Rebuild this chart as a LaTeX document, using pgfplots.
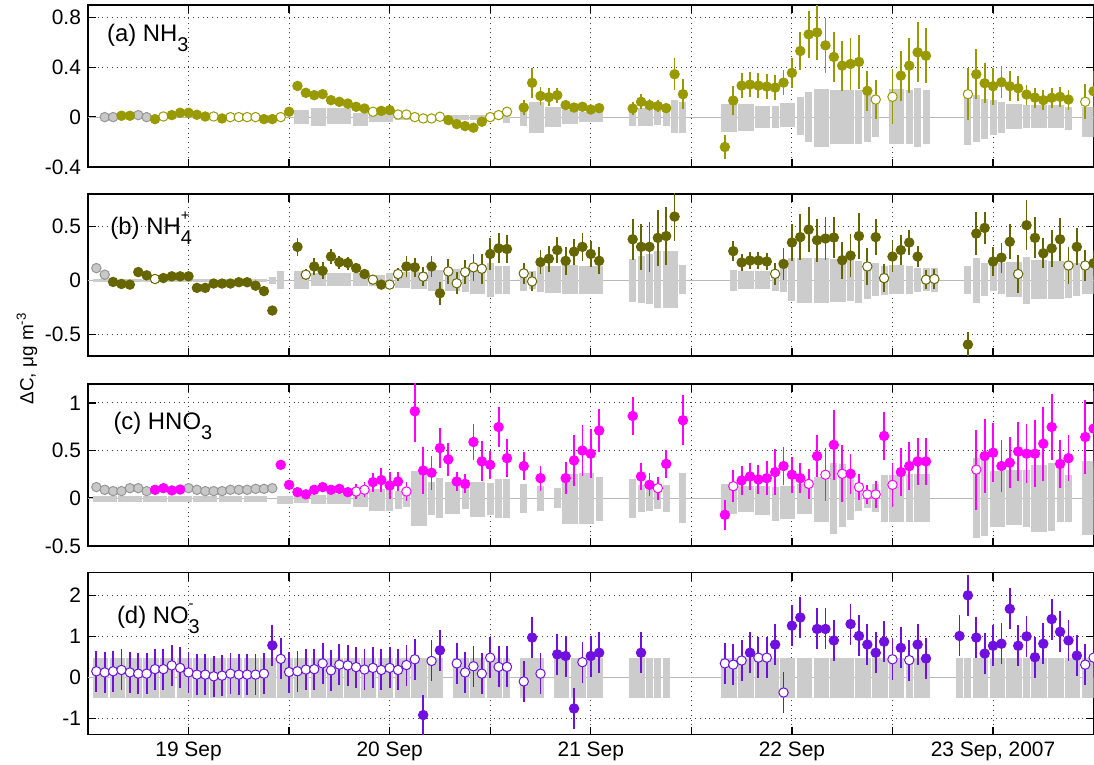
\documentclass[border=0pt]{standalone}
\usepackage{pgfplots}
\pgfplotsset{compat=1.18}
\usepackage{pgfplotstable}
\usepackage{fontspec}
\setmainfont{Liberation Sans}

\definecolor{barg}{RGB}{204,204,204}
\definecolor{colA}{RGB}{153,153,0}
\definecolor{colB}{RGB}{102,102,0}
\definecolor{colC}{RGB}{255,0,255}
\definecolor{colD}{RGB}{112,16,224}
\definecolor{grA}{RGB}{200,200,200}
\definecolor{grE}{RGB}{150,150,150}

\newcommand{\sbs}[1]{\raisebox{-0.42em}{\fontsize{10}{12}\selectfont #1}}
\newcommand{\sps}[1]{\raisebox{0.6em}{\fontsize{7.5}{9}\selectfont #1}}

\pgfplotsset{
 blk/.style={only marks, mark=*, mark size=0pt, mark options={draw=none, fill=none}, forget plot,
   error bars/y dir=both, error bars/y explicit, error bars/error mark=none,
   error bars/error bar style={line width=#1, color=barg, line cap=butt}},
 errs/.style={only marks, mark=*, mark size=0pt, mark options={draw=none, fill=none}, forget plot,
   error bars/y dir=both, error bars/y explicit, error bars/error mark=none,
   error bars/error bar style={line width=0.9bp, color=#1}},
 mk/.style 2 args={only marks, mark=*, mark size=2.35bp, forget plot,
   mark options={draw=#1, fill=#2, line width=0.5bp}},
 panel/.style={width=503bp, height=81bp, scale only axis, xmin=0, xmax=120,
   anchor=north west,
   xtick={12,24,...,108}, xticklabel=\empty,
   grid=major, grid style={dotted, line width=0.5bp, black!75},
   axis line style={line width=0.7bp}, major tick length=4bp,
   tick style={line width=0.7bp, black},
   tick label style={font=\fontsize{10.5}{12}\selectfont}},
}
\tikzset{plab/.style={anchor=base west, font=\fontsize{12}{14}\selectfont, inner sep=0pt}}

% ---------------- panel (a) NH3 ----------------
\pgfplotstableread{
h v e t
2 0 0.015 2
3 0 0.015 2
4 0.011 0.015 0
5 0.011 0.015 0
6 0.016 0.015 2
7 0 0.015 2
8 -0.016 0.015 0
9 0.005 0.015 1
10 0.016 0.015 0
11 0.035 0.015 0
12 0.035 0.015 0
13 0.019 0.015 0
14 0.005 0.015 0
15 0.005 0.015 1
16 -0.011 0.015 0
17 0 0.015 1
18 0 0.015 1
19 0 0.015 1
20 0 0.015 1
21 -0.016 0.015 0
22 -0.016 0.015 0
23 0 0.015 1
24 0.043 0.03 0
25 0.25 0.04 0
26 0.195 0.04 0
27 0.176 0.04 0
28 0.184 0.04 0
29 0.136 0.04 0
30 0.123 0.04 0
31 0.109 0.04 0
32 0.083 0.04 0
33 0.069 0.04 0
34 0.043 0.03 1
35 0.05 0.03 0
36 0.056 0.03 0
37 0.021 0.02 1
38 0.021 0.02 1
39 0 0.02 1
40 -0.011 0.02 1
41 -0.011 0.02 1
42 0.003 0.02 1
43 -0.024 0.02 0
44 -0.056 0.02 0
45 -0.072 0.02 0
46 -0.085 0.02 0
47 -0.037 0.02 0
48 0 0.02 1
49 0.016 0.02 1
50 0.043 0.02 1
52 0.077 0.06 0
53 0.275 0.12 0
54 0.17 0.07 0
55 0.16 0.07 0
56 0.176 0.06 0
57 0.096 0.04 0
58 0.077 0.03 0
59 0.083 0.03 0
60 0.061 0.03 0
61 0.072 0.03 0
65 0.069 0.05 0
66 0.123 0.06 0
67 0.096 0.05 0
68 0.088 0.05 0
69 0.072 0.04 0
70 0.344 0.13 0
71 0.184 0.12 0
76 -0.24 0.1 0
77 0.133 0.12 0
78 0.253 0.1 0
79 0.261 0.1 0
80 0.253 0.1 0
81 0.245 0.1 0
82 0.237 0.1 0
83 0.277 0.1 0
84 0.355 0.12 0
85 0.531 0.15 0
86 0.664 0.19 0
87 0.68 0.22 0
88 0.576 0.22 0
89 0.483 0.2 0
90 0.413 0.2 0
91 0.427 0.21 0
92 0.443 0.22 0
93 0.211 0.16 0
94 0.141 0.16 1
96 0.163 0.22 1
97 0.333 0.2 0
98 0.413 0.22 0
99 0.52 0.24 0
100 0.493 0.22 0
105 0.184 0.21 1
106 0.344 0.2 0
107 0.272 0.16 0
108 0.248 0.15 0
109 0.28 0.13 0
110 0.248 0.12 0
111 0.232 0.1 0
112 0.181 0.08 0
113 0.157 0.08 0
114 0.136 0.08 0
115 0.155 0.08 0
116 0.163 0.08 0
117 0.141 0.08 0
119 0.123 0.14 1
120 0.208 0.16 0
}\ptsA
\pgfplotstableread{
c hi lo w
25.5 0.056 0.056 2
27.5 0.07 0.07 2
30 0.07 0.056 3
32.5 0.03 0.07 2
35 0.03 0.037 3
38 0.016 0.02 3
41 0.016 0.02 3
44 0.016 0.02 3
47 0.016 0.02 3
50 0.016 0.05 1
52 0.083 0.072 1
53.5 0.12 0.125 2
55.5 0.083 0.077 2
57.5 0.056 0.056 2
60 0.043 0.037 3
65 0.07 0.072 1
66.5 0.07 0.072 2
68 0.07 0.064 1
69 0.083 0.072 1
70 0.136 0.13 1
71 0.123 0.125 1
76.5 0.104 0.123 2
78.5 0.104 0.109 2
80.5 0.091 0.091 2
82 0.088 0.091 1
83.5 0.115 0.083 2
85 0.163 0.144 1
86 0.203 0.197 1
87.5 0.229 0.237 2
90 0.216 0.216 3
92 0.216 0.219 1
93 0.203 0.197 1
94 0.136 0.157 1
96.5 0.229 0.216 2
98 0.221 0.216 1
99 0.237 0.237 1
100 0.216 0.216 1
105 0.184 0.224 1
106 0.176 0.203 1
107 0.149 0.179 1
108 0.136 0.144 1
109 0.123 0.125 1
110.5 0.109 0.099 2
112 0.096 0.091 1
113.5 0.096 0.091 2
115.5 0.096 0.091 2
117 0.083 0.104 1
119.5 0.083 0.157 2
}\barsA

% ---------------- panel (b) NH4+ ----------------
\pgfplotstableread{
h v e t
1 0.113 0.015 2
2 0.052 0.015 2
3 -0.015 0.015 0
4 -0.034 0.015 0
5 -0.04 0.015 0
6 0.076 0.015 0
7 0.046 0.015 0
8 0.012 0.015 1
9 0.021 0.015 0
10 0.037 0.015 0
11 0.037 0.015 0
12 0.037 0.015 0
13 -0.07 0.015 0
14 -0.07 0.015 0
15 -0.03 0.015 0
16 -0.03 0.015 0
17 -0.03 0.015 0
18 -0.018 0.015 0
19 -0.018 0.015 0
20 -0.05 0.015 0
21 -0.1 0.015 0
22 -0.28 0.015 0
25 0.31 0.085 0
26 0.052 0.05 1
27 0.128 0.08 0
28 0.088 0.08 0
29 0.22 0.07 0
30 0.168 0.06 0
31 0.16 0.06 0
32 0.113 0.05 0
33 0.058 0.05 0
34 0.006 0.04 1
35 -0.04 0.04 0
36 -0.04 0.04 1
37 0.058 0.06 1
38 0.128 0.1 0
39 0.12 0.09 0
40 0.034 0.09 1
41 0.128 0.1 0
42 -0.12 0.107 0
43 0.082 0.116 1
44 -0.027 0.1 1
45 0.076 0.11 1
46 0.12 0.125 1
47 0.107 0.137 1
48 0.244 0.15 0
49 0.296 0.14 0
50 0.29 0.13 0
52 0.064 0.1 1
53 -0.01 0.085 1
54 0.168 0.11 0
55 0.2 0.12 0
56 0.28 0.12 0
57 0.18 0.13 0
58 0.265 0.12 0
59 0.31 0.13 0
60 0.244 0.12 0
61 0.18 0.125 0
65 0.38 0.19 0
66 0.31 0.21 0
67 0.31 0.23 0
68 0.393 0.26 0
69 0.41 0.27 0
70 0.59 0.23 0
77 0.27 0.09 0
78 0.165 0.08 0
79 0.183 0.08 0
80 0.183 0.08 0
81 0.174 0.08 0
82 0.06 0.1 1
83 0.152 0.15 0
84 0.35 0.17 0
85 0.40 0.21 0
86 0.47 0.21 0
87 0.372 0.2 0
88 0.387 0.2 0
89 0.396 0.19 0
90 0.186 0.17 0
91 0.229 0.2 0
92 0.41 0.21 0
93 0.128 0.17 1
94 0.40 0.17 0
95 0.02 0.13 1
96 0.22 0.14 0
97 0.28 0.14 0
98 0.35 0.12 0
99 0.22 0.1 0
100 0.006 0.09 1
101 0.012 0.09 1
105 -0.595 0.12 0
106 0.433 0.2 0
107 0.485 0.15 0
108 0.174 0.13 0
109 0.21 0.14 0
110 0.357 0.16 0
111 0.058 0.18 1
112 0.51 0.23 0
113 0.393 0.19 0
114 0.25 0.14 0
115 0.296 0.17 0
116 0.38 0.2 0
117 0.137 0.17 1
118 0.31 0.17 0
119 0.137 0.14 1
120 0.158 0.12 0
}\ptsB
\pgfplotstableread{
c hi lo w
2 0.012 0.015 3
5 0.012 0.015 3
8 0.012 0.015 3
11 0.012 0.015 3
14 0.012 0.015 3
17 0.012 0.015 3
20 0.012 0.015 3
22 0.03 0.03 1
23 0.088 0.076 1
25.5 0.088 0.076 2
27.5 0.067 0.055 2
30 0.067 0.055 3
32.5 0.067 0.055 2
34.5 0.052 0.055 2
36 0.067 0.04 1
37.5 0.076 0.07 2
39.5 0.076 0.076 2
41.5 0.098 0.095 2
43.5 0.107 0.101 2
45 0.076 0.107 1
46.5 0.098 0.131 2
48 0.158 0.155 1
49 0.128 0.125 1
50 0.128 0.125 1
52 0.098 0.101 1
53 0.088 0.085 1
54 0.119 0.107 1
55.5 0.128 0.116 2
57.5 0.143 0.131 2
60 0.137 0.125 3
65 0.198 0.198 1
66 0.229 0.207 1
67 0.241 0.223 1
68 0.271 0.253 1
69.5 0.271 0.259 2
71 0.143 0.125 1
77 0.098 0.095 1
78.5 0.088 0.085 2
80.5 0.088 0.085 2
82 0.067 0.095 1
83 0.119 0.107 1
84 0.204 0.192 1
85.5 0.21 0.207 2
87.5 0.21 0.207 2
89.5 0.198 0.198 2
91 0.189 0.192 1
92 0.18 0.207 1
93 0.174 0.177 1
94 0.158 0.146 1
95 0.128 0.137 1
96.5 0.143 0.131 2
98 0.128 0.125 1
99 0.113 0.107 1
100 0.113 0.095 1
101 0.113 0.107 1
105 0.137 0.125 1
106 0.21 0.207 1
107 0.158 0.146 1
108 0.149 0.101 1
109 0.158 0.131 1
110.5 0.174 0.155 2
112 0.219 0.223 1
113.5 0.189 0.177 2
115.5 0.18 0.177 2
117 0.168 0.162 1
118 0.158 0.146 1
119.5 0.128 0.131 2
}\barsB

% ---------------- panel (c) HNO3 ----------------
\pgfplotstableread{
h v e t
1 0.116 0.015 2
2 0.088 0.015 2
3 0.074 0.015 2
4 0.074 0.015 2
5 0.105 0.015 2
6 0.105 0.015 2
7 0.074 0.015 2
8 0.088 0.02 0
9 0.105 0.02 0
10 0.081 0.02 0
11 0.091 0.02 0
12 0.105 0.015 2
13 0.088 0.015 2
14 0.074 0.015 2
15 0.074 0.015 2
16 0.074 0.015 2
17 0.088 0.015 2
18 0.088 0.015 2
19 0.088 0.015 2
20 0.098 0.015 2
21 0.098 0.015 2
22 0.105 0.015 2
23 0.35 0.03 0
24 0.14 0.03 0
25 0.063 0.03 0
26 0.04 0.03 0
27 0.088 0.03 0
28 0.116 0.03 0
29 0.088 0.03 0
30 0.098 0.03 0
31 0.063 0.03 0
32 0.07 0.08 1
33 0.088 0.08 1
34 0.168 0.1 0
35 0.19 0.13 0
36 0.133 0.14 0
37 0.175 0.1 0
38 0.07 0.1 1
39 0.912 0.32 0
40 0.29 0.25 0
41 0.267 0.18 0
42 0.526 0.21 0
43 0.407 0.17 0
44 0.175 0.1 0
45 0.15 0.1 0
46 0.59 0.19 0
47 0.386 0.21 0
48 0.35 0.15 0
49 0.747 0.21 0
50 0.42 0.2 0
52 0.337 0.15 0
54 0.21 0.13 0
57 0.21 0.17 0
58 0.396 0.27 0
59 0.5 0.27 0
60 0.467 0.26 0
61 0.71 0.23 0
65 0.863 0.2 0
66 0.228 0.14 0
67 0.14 0.12 0
68 0.105 0.12 1
69 0.36 0.15 0
71 0.818 0.26 0
76 -0.175 0.16 0
77 0.126 0.17 1
78 0.186 0.15 0
79 0.228 0.14 0
80 0.196 0.15 0
81 0.21 0.18 0
82 0.274 0.24 0
83 0.337 0.2 0
84 0.246 0.19 0
85 0.21 0.16 0
86 0.15 0.16 1
87 0.442 0.22 0
88 0.246 0.28 1
89 0.56 0.37 0
90 0.256 0.3 1
91 0.256 0.21 0
92 0.116 0.14 1
93 0.04 0.1 1
94 0.04 0.14 1
95 0.653 0.25 0
96 0.14 0.23 1
97 0.274 0.25 0
98 0.337 0.25 0
99 0.386 0.25 0
100 0.386 0.25 0
106 0.3 0.42 1
107 0.442 0.39 0
108 0.477 0.31 0
109 0.337 0.27 0
110 0.372 0.27 0
111 0.49 0.31 0
112 0.467 0.31 0
113 0.467 0.35 0
114 0.572 0.39 0
115 0.747 0.35 0
116 0.36 0.25 0
117 0.42 0.24 0
119 0.642 0.39 0
120 0.73 0.4 0
}\ptsC
\pgfplotstableread{
c hi lo w
2 0.021 0.035 3
5 0.021 0.035 3
8 0.021 0.035 3
11 0.021 0.035 3
14 0.021 0.035 3
17 0.021 0.035 3
20 0.021 0.035 3
23.5 0.02 0.06 2
25.5 0.028 0.053 2
27.5 0.035 0.06 2
30 0.046 0.06 3
32.5 0.08 0.095 2
34.5 0.1 0.13 2
36 0.1 0.13 1
37 0.08 0.11 1
38 0.046 0.095 1
39.5 0.29 0.29 2
41 0.175 0.18 1
42 0.21 0.21 1
43.5 0.168 0.165 2
45 0.15 0.11 1
46.5 0.175 0.2 2
48 0.16 0.18 1
49 0.2 0.21 1
50 0.2 0.21 1
52 0.15 0.155 1
54 0.133 0.13 1
56 0.105 0.105 1
57.5 0.256 0.27 2
59.5 0.267 0.27 2
61 0.22 0.235 1
65 0.2 0.21 1
66 0.14 0.147 1
67 0.15 0.13 1
68 0.116 0.112 1
69 0.14 0.147 1
71 0.267 0.26 1
76.5 0.15 0.165 2
78.5 0.133 0.147 2
80.5 0.133 0.18 2
82 0.116 0.235 1
83.5 0.133 0.218 2
85.5 0.15 0.165 2
87.5 0.22 0.25 2
89 0.37 0.375 1
90 0.36 0.305 1
91 0.274 0.225 1
92 0.1 0.13 1
93 0.08 0.105 1
94 0.15 0.147 1
95 0.24 0.25 1
96.5 0.24 0.25 2
98 0.256 0.25 1
99.5 0.256 0.25 2
106 0.42 0.42 1
107 0.414 0.393 1
108.5 0.29 0.305 2
110.5 0.3 0.28 2
112 0.3 0.305 1
113.5 0.344 0.358 2
115 0.37 0.34 1
116 0.326 0.25 1
117 0.24 0.245 1
119.5 0.386 0.386 2
}\barsC

% ---------------- panel (d) NO3- ----------------
\pgfplotstableread{
h v e t
1 0.148 0.5 1
2 0.12 0.5 1
3 0.148 0.5 1
4 0.18 0.5 1
5 0.12 0.5 1
6 0.09 0.5 1
7 0.09 0.5 1
8 0.2 0.5 1
9 0.2 0.5 1
10 0.29 0.5 1
11 0.23 0.5 1
12 0.12 0.5 1
13 0.066 0.5 1
14 0.066 0.5 1
15 0.025 0.5 1
16 0.041 0.5 1
17 0.09 0.5 1
18 0.066 0.5 1
19 0.066 0.5 1
20 0.066 0.5 1
21 0.09 0.5 1
22 0.78 0.5 0
23 0.45 0.5 1
24 0.13 0.5 1
25 0.148 0.5 1
26 0.19 0.5 1
27 0.2 0.5 1
28 0.34 0.5 1
29 0.17 0.5 1
30 0.31 0.5 1
31 0.29 0.5 1
32 0.25 0.5 1
33 0.19 0.5 1
34 0.23 0.5 1
35 0.18 0.5 1
36 0.23 0.5 1
37 0.18 0.5 1
38 0.3 0.5 1
39 0.44 0.5 1
40 -0.92 0.5 0
41 0.4 0.5 1
42 0.66 0.5 0
44 0.34 0.5 1
45 0.12 0.5 1
46 0.27 0.5 1
47 0.09 0.5 1
48 0.48 0.5 1
49 0.255 0.5 1
50 0.255 0.5 1
52 -0.1 0.5 1
53 0.97 0.5 0
54 0.09 0.5 1
56 0.56 0.5 0
57 0.52 0.5 0
58 -0.76 0.5 0
59 0.37 0.5 1
60 0.52 0.5 0
61 0.6 0.5 0
66 0.6 0.5 0
76 0.34 0.5 1
77 0.31 0.5 1
78 0.41 0.5 1
79 0.6 0.5 0
80 0.48 0.5 1
81 0.48 0.5 1
82 0.8 0.5 0
83 -0.37 0.5 1
84 1.26 0.5 0
85 1.46 0.5 0
87 1.18 0.5 0
88 1.18 0.5 0
89 0.9 0.5 0
91 1.3 0.5 0
92 1.01 0.5 0
93 0.8 0.5 0
94 0.6 0.5 0
95 0.87 0.5 0
96 0.44 0.5 1
97 0.72 0.5 0
98 0.42 0.5 1
99 0.8 0.5 0
100 0.46 0.5 0
104 1.01 0.5 0
105 2.0 0.5 0
106 0.97 0.5 0
107 0.58 0.5 0
108 0.77 0.5 0
109 0.82 0.5 0
110 1.67 0.5 0
111 0.77 0.5 0
112 1.0 0.5 0
113 0.49 0.5 0
114 0.82 0.5 0
115 1.42 0.5 0
116 1.11 0.5 0
117 0.9 0.5 0
118 0.53 0.5 0
119 0.31 0.5 1
120 0.48 0.5 1
}\ptsD
\pgfplotstableread{
c hi lo w
1.5 0.477 0.494 2
3.5 0.477 0.494 2
5.5 0.477 0.494 2
7.5 0.477 0.494 2
9.5 0.477 0.494 2
11.5 0.477 0.494 2
13.5 0.477 0.494 2
15.5 0.477 0.494 2
17.5 0.477 0.494 2
19.5 0.477 0.494 2
21.5 0.477 0.494 2
23.5 0.477 0.494 2
25.5 0.477 0.494 2
27.5 0.477 0.494 2
29.5 0.477 0.494 2
31.5 0.477 0.494 2
33.5 0.477 0.494 2
35.5 0.477 0.494 2
37.5 0.477 0.494 2
39.5 0.477 0.494 2
41.5 0.477 0.494 2
44.5 0.477 0.494 2
46.5 0.477 0.494 2
48.5 0.477 0.494 2
50 0.477 0.494 1
53 0.477 0.494 3
56.5 0.477 0.494 2
58.5 0.477 0.494 2
60.5 0.477 0.494 2
65.5 0.477 0.494 2
67 0.477 0.494 1
68 0.477 0.494 1
69 0.477 0.494 1
76.5 0.477 0.494 2
78.5 0.477 0.494 2
81 0.477 0.494 3
83.5 0.477 0.494 2
85.5 0.477 0.494 2
87.5 0.477 0.494 2
90 0.477 0.494 3
92.5 0.477 0.494 2
94.5 0.477 0.494 2
96.5 0.477 0.494 2
98 0.477 0.494 1
99.5 0.477 0.494 2
104 0.477 0.494 1
105 0.477 0.494 1
106.5 0.477 0.494 2
108.5 0.477 0.494 2
110.5 0.477 0.494 2
112 0.477 0.494 1
113.5 0.477 0.494 2
115.5 0.477 0.494 2
117.5 0.477 0.494 2
119.5 0.477 0.494 2
}\barsD

% draw the gray blocks of one panel
\newcommand{\drawbars}[1]{%
  \addplot[gray!55, line width=0.4bp, forget plot] coordinates {(0,0) (120,0)};
  \addplot[blk=3.5bp, restrict expr to domain={\thisrow{w}}{0.5:1.5}]
     table[x=c, y expr=0, y error plus=hi, y error minus=lo] {#1};
  \addplot[blk=7.7bp, restrict expr to domain={\thisrow{w}}{1.5:2.5}]
     table[x=c, y expr=0, y error plus=hi, y error minus=lo] {#1};
  \addplot[blk=11.9bp, restrict expr to domain={\thisrow{w}}{2.5:3.5}]
     table[x=c, y expr=0, y error plus=hi, y error minus=lo] {#1};
}
% draw the points of one panel: #1 table, #2 colour
\newcommand{\drawpts}[2]{%
  \addplot[errs=grE, restrict expr to domain={\thisrow{t}}{1.5:2.5}]
     table[x=h, y=v, y error=e] {#1};
  \addplot[errs=#2, restrict expr to domain={\thisrow{t}}{-0.5:1.5}]
     table[x=h, y=v, y error=e] {#1};
  \addplot[mk={grE}{grA}, restrict expr to domain={\thisrow{t}}{1.5:2.5}]
     table[x=h, y=v] {#1};
  \addplot[mk={#2}{white}, restrict expr to domain={\thisrow{t}}{0.5:1.5}]
     table[x=h, y=v] {#1};
  \addplot[mk={#2}{#2}, restrict expr to domain={\thisrow{t}}{-0.5:0.5}]
     table[x=h, y=v] {#1};
}

\begin{document}
\begin{tikzpicture}
\useasboundingbox (-44bp,2.5bp) rectangle (503.2bp,-380bp);

\begin{axis}[panel, at={(0,0)}, ymin=-0.4, ymax=0.9,
  ytick={-0.4,0,0.4,0.8}, yticklabels={-0.4,0,0.4,0.8}]
\drawbars{\barsA}
\drawpts{\ptsA}{colA}
\node[plab] at (rel axis cs:0.0186,0.773) {(a) NH\sbs{3}};
\end{axis}

\begin{axis}[panel, at={(0,-94.5bp)}, ymin=-0.7, ymax=0.8,
  ytick={-0.5,0,0.5}, yticklabels={-0.5,0,0.5}]
\drawbars{\barsB}
\drawpts{\ptsB}{colB}
\node[plab] at (rel axis cs:0.022,0.75) {(b) NH\rlap{\sps{+}}\sbs{4}};
\end{axis}

\begin{axis}[panel, at={(0,-189.5bp)}, ymin=-0.5, ymax=1.2,
  ytick={-0.5,0,0.5,1}, yticklabels={-0.5,0,0.5,1}]
\drawbars{\barsC}
\drawpts{\ptsC}{colC}
\node[plab] at (rel axis cs:0.025,0.716) {(c) HNO\sbs{3}};
\end{axis}

\begin{axis}[panel, at={(0,-284bp)}, ymin=-1.4, ymax=2.55,
  ytick={-1,0,1,2}, yticklabels={-1,0,1,2},
  xticklabels={19 Sep,,20 Sep,,21 Sep,,22 Sep,,{23 Sep, 2007}}]
\drawbars{\barsD}
\drawpts{\ptsD}{colD}
\node[plab] at (rel axis cs:0.0285,0.69) {(d) NO\rlap{\sps{-}}\sbs{3}};
\end{axis}

\node[rotate=90, font=\fontsize{9.5}{11}\selectfont] at (-30.5bp,-176.75bp)
  {ΔC, μg m\textsuperscript{-3}};
\end{tikzpicture}
\end{document}
